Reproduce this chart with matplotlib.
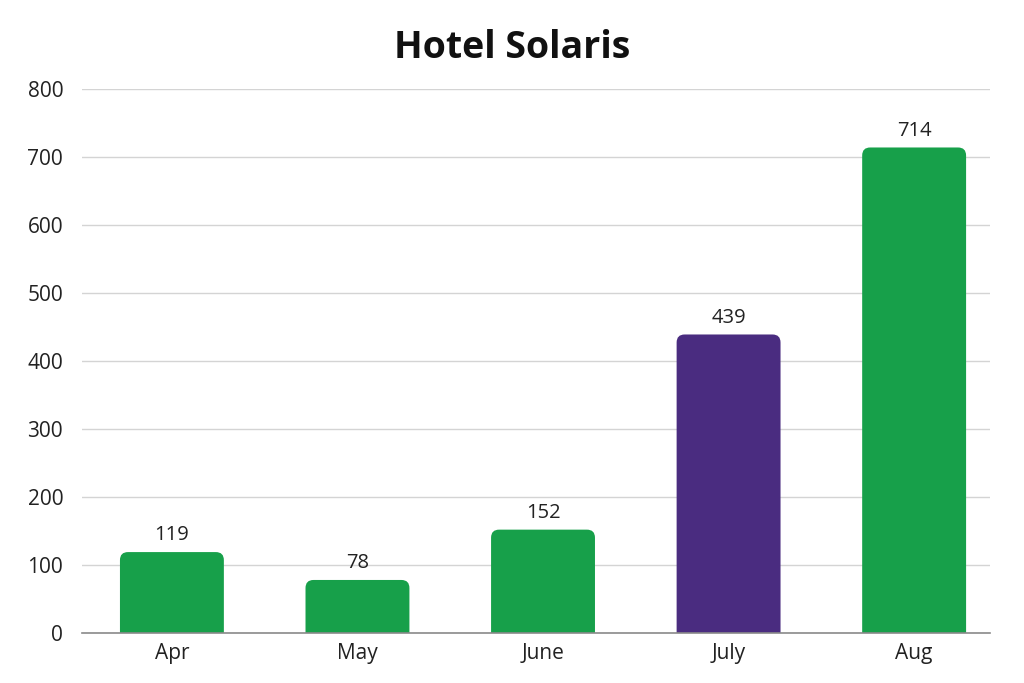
import matplotlib
matplotlib.use("Agg")
import matplotlib.pyplot as plt
from matplotlib.patches import FancyBboxPatch

months = ["Apr", "May", "June", "July", "Aug"]
values = [119, 78, 152, 439, 714]
colors = ["#17a04a", "#17a04a", "#17a04a", "#4a2c80", "#17a04a"]
title = "Hotel Solaris"
yticks = [0, 100, 200, 300, 400, 500, 600, 700, 800]

plt.rcParams['font.family'] = ['Open Sans', 'DejaVu Sans']

fig = plt.figure(figsize=(10.24, 6.83), dpi=100)
ax = fig.add_axes([0.080, 0.0732, 0.887, 0.7965])
x = list(range(len(months)))
bars = ax.bar(x, values, width=0.56, color=colors)
ax.set_xlim(-0.485, 4.41)
ax.set_ylim(0, 800)

# convert to rounded-top bars
fig.canvas.draw()
inv = ax.transData.inverted()
p0 = inv.transform((0, 0)); p1 = inv.transform((8, 8))
rx = p1[0] - p0[0]; ry = p1[1] - p0[1]
for b in bars:
    b.set_visible(False)
    xb, w, h = b.get_x(), b.get_width(), b.get_height()
    patch = FancyBboxPatch((xb, -ry * 2), w, h + ry * 2,
                           boxstyle=f"round,pad=0,rounding_size={rx}",
                           mutation_aspect=ry / rx,
                           facecolor=b.get_facecolor(), edgecolor="none",
                           clip_on=True, zorder=3)
    ax.add_patch(patch)
    patch.set_clip_path(ax.patch)
    ax.annotate(f"{h:g}", (xb + w / 2, h), xytext=(0, 5), textcoords="offset points",
                ha="center", va="bottom", fontsize=14.5, color="#222222")

ax.set_yticks(yticks)
ax.set_xticks(x)
ax.set_xticklabels(months)
ax.tick_params(axis="y", length=0, pad=13.5, labelsize=15, labelcolor="#222222")
ax.tick_params(axis="x", length=0, pad=7, labelsize=15, labelcolor="#222222")
ax.grid(axis="y", color="#d4d4d4", linewidth=1)
ax.set_axisbelow(True)
for s in ["top", "right", "left"]:
    ax.spines[s].set_visible(False)
ax.spines["bottom"].set_color("#8a8a8a")
ax.spines["bottom"].set_linewidth(1.2)
ax.spines["bottom"].set_zorder(4)

fig.text(0.5, 0.93, title, ha="center", va="center", fontsize=27, fontweight="bold", color="#111111")

fig.savefig("out.png", dpi=100)
